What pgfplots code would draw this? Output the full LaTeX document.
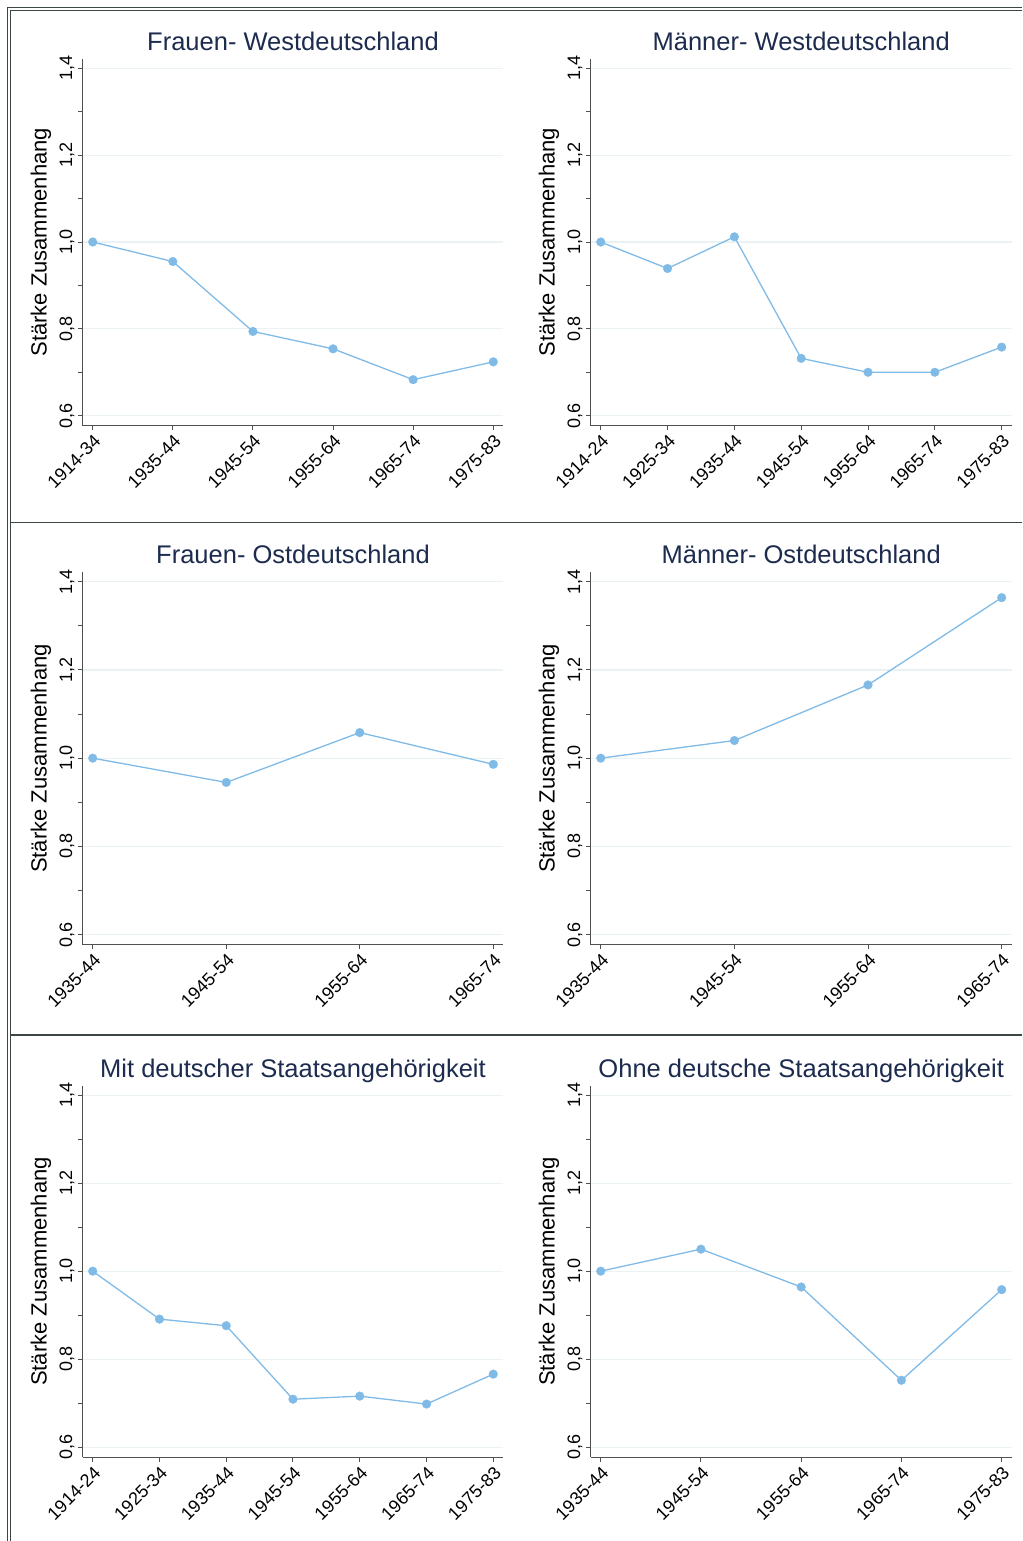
\documentclass[border=0pt]{standalone}
\usepackage{fontspec}
\setmainfont{Liberation Sans}
\usepackage{pgfplots}
\pgfplotsset{compat=1.18}
\definecolor{ttl}{RGB}{28,43,78}
\definecolor{ln}{RGB}{128,187,232}
\definecolor{gridc}{RGB}{234,242,244}
\definecolor{axc}{RGB}{80,80,80}
\definecolor{brd}{RGB}{60,70,70}
\pgfplotsset{
  panel/.style={
    scale only axis,
    axis x line*=bottom, axis y line*=left,
    axis line style={draw=axc, line width=0.7pt},
    ymin=0.577, ymax=1.4215,
    ytick={0.6,0.8,1.0,1.2,1.4},
    minor ytick={0.7,0.9,1.1,1.3},
    ymajorgrids,
    major grid style={draw=gridc, line width=0.55pt},
    tick align=outside,
    major tick length=2.4pt, minor tick length=2.4pt,
    tick style={draw=axc, line width=0.5pt},
    yticklabel style={rotate=90, anchor=south, inner sep=1.5pt,
      font=\fontsize{9}{10}\selectfont,
      /pgf/number format/fixed, /pgf/number format/fixed zerofill,
      /pgf/number format/precision=1, /pgf/number format/use comma,
      /pgf/number format/assume math mode=true},
    xticklabel style={rotate=45, anchor=north east, inner sep=1pt,
      font=\fontsize{9}{10}\selectfont},
    ylabel={Stärke Zusammenhang},
    every axis y label/.style={at={(axis description cs:-0.0738,0.5)},
      rotate=90, anchor=south, inner sep=0pt, font=\fontsize{11}{13}\selectfont},
    every axis title/.style={at={(axis description cs:0.5,1)}, anchor=base,
      yshift=4.3pt, inner sep=0pt, font=\fontsize{12.75}{15}\selectfont, text=ttl},
    clip=false,
  },
  ser/.style={color=ln, line width=0.65pt, mark=*, mark size=2.2pt,
    mark options={solid, fill=ln, draw=ln, line width=0.1pt}},
}
\begin{document}
\begin{tikzpicture}
\useasboundingbox (0,0) rectangle (511pt,770.5pt);
\fill[white] (0,0) rectangle (511pt,770.5pt);
% borders
\draw[brd, line width=0.6pt] (3.85pt,0) -- (3.85pt,766.75pt) -- (511pt,766.75pt);
\draw[brd, line width=0.6pt] (5.35pt,0) -- (5.35pt,765.35pt) -- (511pt,765.35pt);
\draw[brd, line width=0.7pt] (5.35pt,509.35pt) -- (511pt,509.35pt);
\draw[brd, line width=0.7pt] (5.35pt,253pt) -- (511pt,253pt);

% Row 1 left
\begin{axis}[panel, at={(41.35pt,557.65pt)}, anchor=south west,
  width=210.3pt, height=183.35pt,
  xmin=-0.125, xmax=5.125, xtick={0,...,5},
  xticklabels={1914-34,1935-44,1945-54,1955-64,1965-74,1975-83},
  title={Frauen- Westdeutschland}]
\addplot[ser] coordinates {(0,1.000) (1,0.955) (2,0.794) (3,0.754) (4,0.683) (5,0.724)};
\end{axis}

% Row 1 right
\begin{axis}[panel, at={(295.35pt,557.65pt)}, anchor=south west,
  width=210.5pt, height=183.35pt,
  xmin=-0.15, xmax=6.15, xtick={0,...,6},
  xticklabels={1914-24,1925-34,1935-44,1945-54,1955-64,1965-74,1975-83},
  title={Männer- Westdeutschland}]
\addplot[ser] coordinates {(0,1.000) (1,0.939) (2,1.012) (3,0.732) (4,0.700) (5,0.700) (6,0.758)};
\end{axis}

% Row 2 left
\begin{axis}[panel, at={(41.35pt,298.15pt)}, anchor=south west,
  width=210.3pt, height=186.2pt,
  xmin=-0.075, xmax=3.075, xtick={0,...,3},
  xticklabels={1935-44,1945-54,1955-64,1965-74},
  title={Frauen- Ostdeutschland}]
\addplot[ser] coordinates {(0,1.000) (1,0.945) (2,1.058) (3,0.986)};
\end{axis}

% Row 2 right
\begin{axis}[panel, at={(295.35pt,298.15pt)}, anchor=south west,
  width=210.5pt, height=186.2pt,
  xmin=-0.075, xmax=3.075, xtick={0,...,3},
  xticklabels={1935-44,1945-54,1955-64,1965-74},
  title={Männer- Ostdeutschland}]
\addplot[ser] coordinates {(0,1.000) (1,1.040) (2,1.166) (3,1.364)};
\end{axis}

% Row 3 left
\begin{axis}[panel, at={(41.35pt,41.85pt)}, anchor=south west,
  width=210.3pt, height=185.8pt,
  xmin=-0.15, xmax=6.15, xtick={0,...,6},
  xticklabels={1914-24,1925-34,1935-44,1945-54,1955-64,1965-74,1975-83},
  title={Mit deutscher Staatsangehörigkeit}]
\addplot[ser] coordinates {(0,1.000) (1,0.891) (2,0.876) (3,0.709) (4,0.716) (5,0.698) (6,0.766)};
\end{axis}

% Row 3 right
\begin{axis}[panel, at={(295.35pt,41.85pt)}, anchor=south west,
  width=210.5pt, height=185.8pt,
  xmin=-0.1, xmax=4.1, xtick={0,...,4},
  xticklabels={1935-44,1945-54,1955-64,1965-74,1975-83},
  title={Ohne deutsche Staatsangehörigkeit}]
\addplot[ser] coordinates {(0,1.000) (1,1.050) (2,0.964) (3,0.752) (4,0.958)};
\end{axis}
\end{tikzpicture}
\end{document}
